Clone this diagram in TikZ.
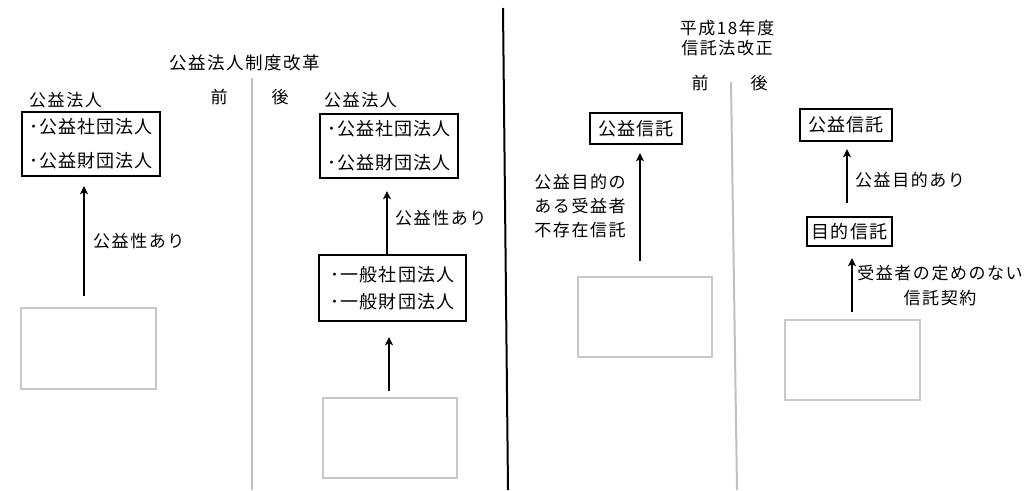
\documentclass[tikz,border=0pt]{standalone}
\usepackage{fontspec}
\newfontfamily\jp[LetterSpace=9]{Noto Sans CJK JP}
\newfontfamily\jpbox[LetterSpace=6]{Noto Sans CJK JP}
\usetikzlibrary{arrows.meta}
\definecolor{lgray}{HTML}{C8C8C8}
\definecolor{lline}{HTML}{C0C0C0}
\begin{document}
\begin{tikzpicture}[x=1pt,y=-1pt,
  lbl/.style={inner sep=0pt, font=\jp\fontsize{17}{19}\selectfont},
  blk/.style={draw=black, line width=2.4pt, inner sep=0pt, align=left,
    font=\jpbox\fontsize{18}{#1}\selectfont},
  blk/.default=20pt,
  gbox/.style={draw=lgray, line width=2pt, inner sep=0pt},
  arr/.style={-{Stealth[length=8pt,width=8pt,inset=2pt]}, line width=2pt},
  sep/.style={line width=2pt, draw=lline}]
\useasboundingbox (0,0) rectangle (1024,490);
% dividers
\draw[line width=2pt] (503,8) -- (508,490);
\draw[sep] (252,78) -- (252,490);
\draw[sep] (731,82) -- (737,490);
% ---------- left panel ----------
\node[lbl, font=\jp\fontsize{17.5}{19}\selectfont] (t1) at (245,63) {公益法人制度改革};
\node[lbl] (pre1) at (219,97) {前};
\node[lbl] (post1) at (280,97) {後};
\node[lbl, anchor=west] (h1) at (29,100) {公益法人};
\node[lbl, anchor=west] (h2) at (324,100) {公益法人};
\node[blk=34pt, minimum width=138pt, minimum height=64pt] (b1) at (91,144)
  {･公益社団法人\\･公益財団法人};
\node[gbox, minimum width=135pt, minimum height=81pt] (g1) at (88.5,348.5) {};
\draw[arr, shorten <=11pt, shorten >=9pt] ([xshift=-4.5pt]g1.north) -- ([xshift=-7pt]b1.south);
\node[lbl, anchor=west] (l1) at (93,241) {公益性あり};
\node[blk=34pt, minimum width=138pt, minimum height=64pt] (b2) at (389,146)
  {･公益社団法人\\･公益財団法人};
\node[blk=27pt, minimum width=147pt, minimum height=66pt] (b3) at (392.5,288)
  {･一般社団法人\\･一般財団法人};
\node[gbox, minimum width=134pt, minimum height=80pt] (g2) at (390,438) {};
\draw[arr, shorten <=0pt, shorten >=12pt] ([xshift=-5.5pt]b3.north) -- ([xshift=-2pt]b2.south);
\node[lbl, anchor=west] (l2) at (395,218) {公益性あり};
\draw[arr, shorten <=6pt, shorten >=15pt] ([xshift=-1pt]g2.north) -- ([xshift=-3.5pt]b3.south);
% ---------- right panel ----------
\node[lbl, align=center, font=\jp\fontsize{17}{20}\selectfont] (t2) at (727,38) {平成18年度\\信託法改正};
\node[lbl] (pre2) at (700,83) {前};
\node[lbl] (post2) at (759,83) {後};
\node[blk, minimum width=92pt, minimum height=31pt, align=center] (r1) at (636,128.5) {公益信託};
\node[gbox, minimum width=134pt, minimum height=80pt] (rg1) at (645,317) {};
\draw[arr, shorten <=15pt, shorten >=8pt] ([xshift=-5pt]rg1.north) -- ([xshift=4pt]r1.south);
\node[lbl, align=center, font=\jp\fontsize{17}{24}\selectfont] (l3) at (580,206) {公益目的の\\ある受益者\\不存在信託};
\node[blk, minimum width=92pt, minimum height=32pt, align=center] (r2) at (846,125) {公益信託};
\node[blk, minimum width=85pt, minimum height=29pt, align=center] (r3) at (849.5,231.5) {目的信託};
\node[gbox, minimum width=135pt, minimum height=80pt] (rg2) at (852.5,360) {};
\draw[arr, shorten <=13pt, shorten >=7pt] ([xshift=-2.5pt]r3.north) -- ([xshift=1pt]r2.south);
\node[lbl, anchor=west] (l4) at (855,180) {公益目的あり};
\draw[arr, shorten <=7pt, shorten >=11pt] ([xshift=-0.5pt]rg2.north) -- ([xshift=2.5pt]r3.south);
\node[lbl, align=center, font=\jp\fontsize{17}{25}\selectfont] (l5) at (940,285.5) {受益者の定めのない\\信託契約};
\end{tikzpicture}
\end{document}
